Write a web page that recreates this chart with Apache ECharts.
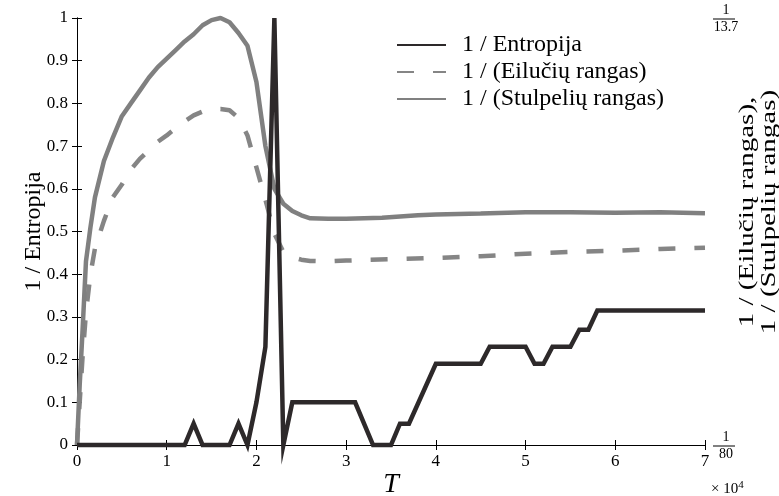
<!DOCTYPE html>
<html>
<head>
<meta charset="utf-8">
<script src="https://cdn.jsdelivr.net/npm/echarts@6/dist/echarts.min.js"></script>
<style>
  html, body { margin: 0; padding: 0; background: #fff; }
  #chart { width: 779px; height: 496px; }
</style>
</head>
<body>
<div id="chart"></div>
<script>
// T (x 10^4)
const entX = [0, 1.2, 1.3, 1.4, 1.7, 1.8, 1.9, 2.0, 2.1, 2.2, 2.3, 2.4, 3.1, 3.3, 3.5, 3.6, 3.7, 4.0, 4.5, 4.6, 5.0, 5.1, 5.2, 5.3, 5.5, 5.6, 5.7, 5.8, 7.0];
const entY = [0, 0, 0.05, 0, 0, 0.05, 0, 0.1, 0.23, 1.0, 0, 0.1, 0.1, 0, 0, 0.05, 0.05, 0.19, 0.19, 0.23, 0.23, 0.19, 0.19, 0.23, 0.23, 0.27, 0.27, 0.315, 0.315];

// eilučių rangas (dešinė ašis, 0 = 1/80, 1 = 1/13.7)
const rowX = [0, 0.03, 0.06, 0.1, 0.15, 0.2, 0.3, 0.4, 0.5, 0.6, 0.7, 0.8, 0.9, 1.0, 1.1, 1.2, 1.3, 1.4, 1.5, 1.6, 1.7, 1.8, 1.9, 2.0, 2.1, 2.2, 2.3, 2.4, 2.5, 2.6, 2.8, 3.0, 3.5, 4.0, 4.5, 5.0, 5.5, 6.0, 6.5, 7.0];
const rowY = [0, 0.1, 0.2, 0.31, 0.4, 0.46, 0.525, 0.58, 0.61, 0.645, 0.67, 0.69, 0.71, 0.725, 0.742, 0.758, 0.772, 0.781, 0.786, 0.787, 0.784, 0.766, 0.725, 0.65, 0.575, 0.495, 0.452, 0.44, 0.434, 0.431, 0.43, 0.432, 0.435, 0.438, 0.442, 0.448, 0.452, 0.455, 0.459, 0.462];

// stulpelių rangas
const colX = [0, 0.03, 0.06, 0.1, 0.15, 0.2, 0.3, 0.4, 0.5, 0.6, 0.7, 0.8, 0.9, 1.0, 1.1, 1.2, 1.3, 1.4, 1.5, 1.6, 1.7, 1.8, 1.9, 2.0, 2.1, 2.2, 2.3, 2.4, 2.5, 2.6, 2.8, 3.0, 3.2, 3.4, 3.6, 3.8, 4.0, 4.5, 5.0, 5.5, 6.0, 6.5, 7.0];
const colY = [0, 0.14, 0.26, 0.43, 0.51, 0.58, 0.665, 0.72, 0.77, 0.8, 0.83, 0.86, 0.885, 0.905, 0.925, 0.945, 0.962, 0.983, 0.995, 1.0, 0.99, 0.965, 0.935, 0.85, 0.7, 0.6, 0.565, 0.548, 0.538, 0.531, 0.53, 0.53, 0.531, 0.532, 0.535, 0.538, 0.54, 0.542, 0.545, 0.545, 0.544, 0.545, 0.543];

const seriesNames = ['1 / Entropija', '1 / (Eilučių rangas)', '1 / (Stulpelių rangas)'];
const rightAxisName = '1 / (Eilučių rangas),\n1 / (Stulpelių rangas)';
const rightMinLabel = '80';
const rightMaxLabel = '13.7';

const font = "'Liberation Serif', 'DejaVu Serif', serif";
const zip = (xs, ys) => xs.map((x, i) => [x, ys[i]]);

const chart = echarts.init(document.getElementById('chart'));

const fraction = (den) => '{n|1}\n{b| }\n{d|' + den + '}';
const fracRich = {
  n: { fontFamily: font, fontSize: 14, color: '#000', width: 26, align: 'center', lineHeight: 15 },
  b: { width: 22, height: 1, lineHeight: 3, backgroundColor: '#000' },
  d: { fontFamily: font, fontSize: 14, color: '#000', width: 26, align: 'center', lineHeight: 13 }
};

const tickStyle = { show: true, inside: true, length: 5, lineStyle: { color: '#000', width: 1 } };

chart.setOption({
  animation: false,
  backgroundColor: '#fff',
  grid: { left: 77, right: 74, top: 18, bottom: 51, outerBoundsMode: 'none', containLabel: false },
  legend: {
    orient: 'vertical',
    left: 391,
    top: 28,
    itemWidth: 49,
    itemHeight: 14,
    itemGap: 3,
    itemStyle: { opacity: 0 },
    textStyle: { fontFamily: font, fontSize: 24, color: '#000', padding: [0, 0, 0, 11] },
    data: seriesNames
  },
  xAxis: [{
    type: 'value',
    min: 0,
    max: 7,
    interval: 1,
    name: 'T',
    nameLocation: 'middle',
    nameGap: 26,
    nameMoveOverlap: false,
    nameTextStyle: { fontFamily: font, fontSize: 28, fontStyle: 'italic', color: '#000' },
    axisLine: { lineStyle: { color: '#000', width: 1 } },
    axisTick: tickStyle,
    axisLabel: { fontFamily: font, fontSize: 17, color: '#000', margin: 8 },
    splitLine: { show: false }
  }, {
    type: 'value',
    position: 'top',
    min: 0,
    max: 7,
    interval: 1,
    axisLine: { show: true, lineStyle: { color: '#000', width: 1 } },
    axisTick: tickStyle,
    axisLabel: { show: false },
    splitLine: { show: false }
  }],
  yAxis: [{
    type: 'value',
    min: 0,
    max: 1,
    interval: 0.1,
    name: '1 / Entropija',
    nameLocation: 'middle',
    nameRotate: 90,
    nameGap: 31,
    nameMoveOverlap: false,
    nameTextStyle: { fontFamily: font, fontSize: 24, color: '#000' },
    axisLine: { show: true, lineStyle: { color: '#000', width: 1 } },
    axisTick: tickStyle,
    axisLabel: { fontFamily: font, fontSize: 17, color: '#000', margin: 9 },
    splitLine: { show: false }
  }, {
    type: 'value',
    position: 'right',
    min: 0,
    max: 1,
    interval: 0.1,
    axisLine: { show: true, lineStyle: { color: '#000', width: 1 } },
    axisTick: tickStyle,
    axisLabel: {
      margin: 8,
      formatter: (v) => {
        if (v === 0) return fraction(rightMinLabel);
        if (Math.abs(v - 1) < 1e-9) return fraction(rightMaxLabel);
        return '';
      },
      rich: fracRich
    },
    splitLine: { show: false }
  }],
  graphic: [{
    type: 'text',
    left: 711,
    top: 480,
    style: {
      text: '× 10{s|4}',
      fontFamily: font,
      fontSize: 15,
      fill: '#000',
      rich: { s: { fontFamily: font, fontSize: 11, verticalAlign: 'top', padding: [0, 0, 8, 0] } }
    }
  }, {
    // dešinės ašies pavadinimas (ištemptas kaip originale)
    type: 'text',
    x: 758,
    y: 212,
    rotation: Math.PI / 2,
    scaleX: 1.32,
    style: {
      text: rightAxisName,
      fontFamily: font,
      fontSize: 22,
      lineHeight: 22,
      fill: '#000',
      align: 'center',
      verticalAlign: 'middle'
    }
  }],
  series: [{
    name: seriesNames[0],
    type: 'line',
    xAxisIndex: 0,
    yAxisIndex: 0,
    data: zip(entX, entY),
    symbol: 'none',
    clip: false,
    z: 3,
    lineStyle: { color: '#2d292a', width: 4.5, join: 'miter' },
    itemStyle: { color: '#2d292a' }
  }, {
    name: seriesNames[1],
    type: 'line',
    xAxisIndex: 0,
    yAxisIndex: 1,
    data: zip(rowX, rowY),
    symbol: 'none',
    clip: false,
    z: 2,
    lineStyle: { color: '#858585', width: 4.5, type: [17, 19] },
    itemStyle: { color: '#858585' }
  }, {
    name: seriesNames[2],
    type: 'line',
    xAxisIndex: 0,
    yAxisIndex: 1,
    data: zip(colX, colY),
    symbol: 'none',
    clip: false,
    z: 2,
    lineStyle: { color: '#808080', width: 4.5 },
    itemStyle: { color: '#808080' }
  }]
});
</script>
</body>
</html>
